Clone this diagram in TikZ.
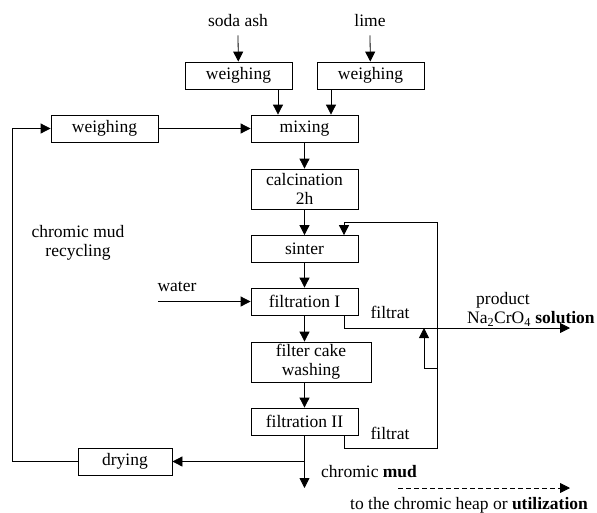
\documentclass[tikz,border=0pt]{standalone}
\usepackage{fontspec}
\setmainfont{Liberation Serif}
\usetikzlibrary{arrows.meta,calc}
\newcommand{\boxwid}{107pt}
\newcommand{\boxhgt}{27pt}
\newcommand{\linethick}{0.8pt}

\begin{document}
\begin{tikzpicture}[x=1pt,y=-1pt,
  font=\fontsize{17.5}{19}\selectfont,
  stepbox/.style={draw,line width=\linethick,minimum width=\boxwid,minimum height=\boxhgt,inner sep=0pt,align=center},
  txt/.style={inner sep=0pt,align=center},
  arr/.style={line width=\linethick,-{Triangle[length=10pt,width=10pt]}},
  wire/.style={line width=\linethick}]
\useasboundingbox (0,0) rectangle (597,512);
\node[txt] (a) at (238,21) {soda ash};
\node[txt] (b) at (370,21) {lime};
\node[stepbox] (1) at (238.5,75.5) {weighing};
\node[stepbox] (2) at (370.5,75.5) {weighing};
\node[stepbox] (3) at (104.5,128.5) {weighing};
\node[stepbox] (4) at (304.5,128.5) {mixing};
\node[stepbox,minimum height=40pt] (5) at (304.5,189) {calcination\\2h};
\node[stepbox] (6) at (304.5,249) {sinter};
\node[stepbox] (7) at (304.5,301.5) {filtration I};
\node[stepbox,minimum width=120pt,minimum height=40pt] (8) at (311,362) {filter cake\\washing};
\node[stepbox] (9) at (304.5,421.5) {filtration II};
\node[stepbox,minimum width=94pt] (10) at (125,461.5) {drying};
%labels
\node[txt] (c) at (177,287) {water};
\node[txt] (d) at (78,243) {chromic mud\\recycling};
\node[txt] (e) at (390,312) {filtrat};
\node[txt] (f) at (390,433) {filtrat};
\node[txt,anchor=west] (g) at (476,300) {product};
\node[txt,anchor=west] (h) at (467,319) {Na\textsubscript{2}CrO\textsubscript{4} \textbf{solution}};
\node[txt,anchor=west] (i) at (321,472) {chromic \textbf{mud}};
\node[txt,anchor=west] (j) at (350,505) {to the chromic heap or \textbf{utilization}};
%free ends
\coordinate (w) at (158,301.5);
\coordinate (m) at (304.5,488);
\coordinate (p) at (570,328);
\coordinate (q1) at (437,448);
\coordinate (q2) at (437,222);
\coordinate (q3) at (437,368);
\coordinate (q4) at (424,328);
\coordinate (l) at (12,461.5);
\coordinate (u1) at (398,488);
\coordinate (u2) at (570,488);
%main line
\draw[arr] ([yshift=-8pt]a.south) -- (1);
\draw[arr] ([yshift=-8pt]b.south) -- (2);
\draw[arr] ([xshift=39.5pt]1.south) -- ([xshift=-26.5pt]4.north);
\draw[arr] ([xshift=-39.5pt]2.south) -- ([xshift=26.5pt]4.north);
\draw[arr] (3) -- (4);
\draw[arr] (4) -- (5);
\draw[arr] (5) -- (6);
\draw[arr] (6) -- (7);
\draw[arr] (7.south) -- (7.south |- 8.north);
\draw[arr] (9.north |- 8.south) -- (9.north);
\draw[arr] (w) -- (7);
\draw[arr] (9) -- (m);
%recycling
\draw[arr] (9.south |- 10.east) -- (10);
\draw[arr] (10) -- (l) |- (3);
%filtrate
\draw[arr] ([xshift=39.5pt]7.south) |- (p);
\draw[arr] ([xshift=39.5pt]9.south) |- (q1) -- (q2) -| ([xshift=39.5pt]6.north);
\draw[arr] (q3) -| (q4);
\draw[arr,dash pattern=on 5pt off 3pt] (u1) -- (u2);
\end{tikzpicture}
\end{document}
